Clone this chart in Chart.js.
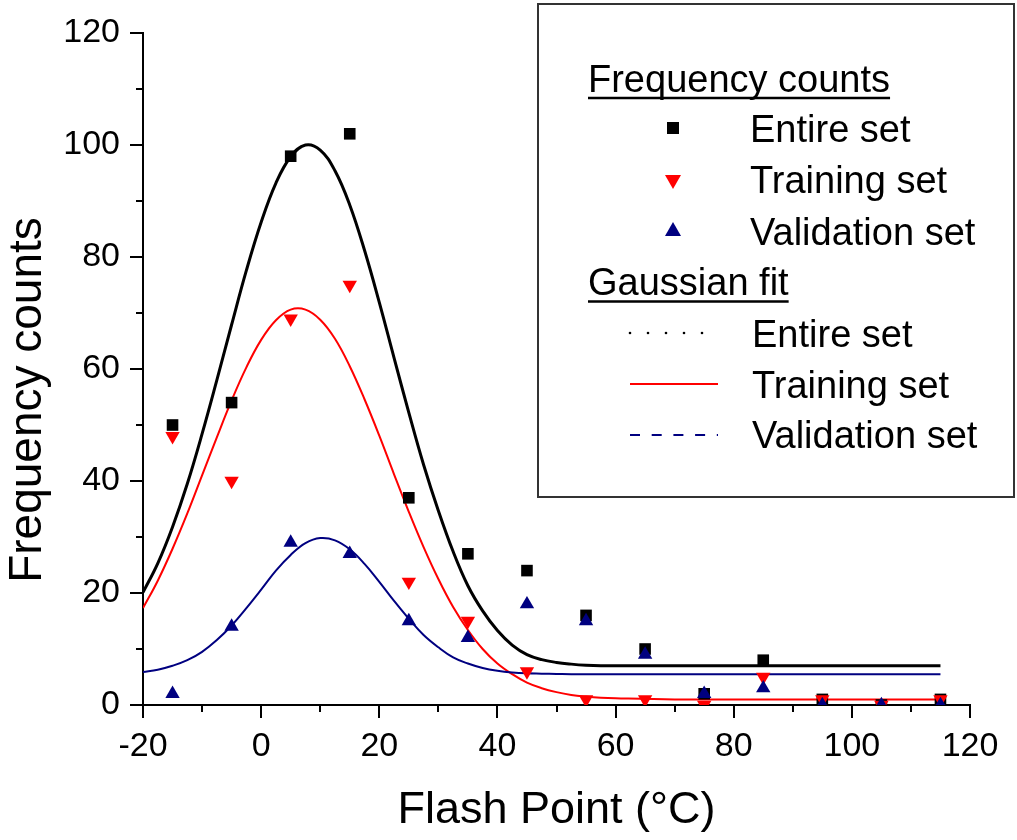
<!DOCTYPE html>
<html>
<head>
<meta charset="utf-8">
<script src="https://cdn.jsdelivr.net/npm/chart.js@4.4.1/dist/chart.umd.min.js"></script>
<style>
html,body{margin:0;padding:0;background:#ffffff;}
#wrap{width:1017px;height:840px;position:relative;}
</style>
</head>
<body>
<div id="wrap"><canvas id="c" width="1017" height="840"></canvas></div>
<script>
// ---- data ----
const binCenters = [-15, -5, 5, 15, 25, 35, 45, 55, 65, 75, 85, 95, 105, 115];
const entireCounts = [50, 54, 98, 102, 37, 27, 24, 16, 10, 2, 8, 1, 0, 1];
const trainingCounts = [48, 40, 69, 75, 22, 15, 6, 1, 1, 0, 5, 1, 0, 1];
const validationCounts = [2, 14, 29, 27, 15, 12, 18, 15, 9, 2, 3, 0, 0, 0];

// Gaussian fit curves
const fitX = [-20, -17.5, -15, -12.5, -10, -7.5, -5, -2.5, 0, 2.5, 5, 7.5, 10, 12.5, 15, 17.5, 20, 22.5, 25, 27.5, 30, 32.5, 35, 37.5, 40, 42.5, 45, 47.5, 50, 52.5, 55, 57.5, 60, 70, 80, 90, 100, 115];
const fitEntire = [20.1, 25.3, 31.8, 39.5, 48.4, 58.0, 67.9, 77.6, 86.2, 93.2, 97.9, 100.0, 99.1, 95.4, 89.3, 81.2, 71.9, 62.0, 52.2, 42.9, 34.7, 27.4, 21.3, 16.8, 13.3, 10.7, 9.0, 8.1, 7.6, 7.3, 7.1, 7.0, 7.0, 7.0, 7.0, 7.0, 7.0, 7.0];
const fitTraining = [17.3, 22.2, 27.9, 34.2, 41.0, 47.8, 54.4, 60.3, 65.2, 68.7, 70.6, 70.6, 68.8, 65.4, 60.5, 54.6, 48.1, 41.2, 34.5, 28.2, 22.5, 17.5, 13.4, 10.0, 7.4, 5.5, 4.0, 3.0, 2.3, 1.8, 1.5, 1.3, 1.2, 1.0, 1.0, 1.0, 1.0, 1.0];
const fitValidation = [5.9, 6.3, 7.0, 8.0, 9.5, 11.6, 14.2, 17.3, 20.6, 24.0, 26.8, 28.9, 29.8, 29.4, 27.8, 25.2, 22.0, 18.6, 15.4, 12.5, 10.3, 8.5, 7.4, 6.6, 6.1, 5.8, 5.65, 5.6, 5.55, 5.5, 5.5, 5.5, 5.5, 5.5, 5.5, 5.5, 5.5, 5.5];

const xTitle = 'Flash Point (°C)';
const yTitle = 'Frequency counts';
const legendHeadings = ['Frequency counts', 'Gaussian fit'];
const legendItems = ['Entire set', 'Training set', 'Validation set'];

const FONT = "'Liberation Sans', Arial, Helvetica, sans-serif";
const BLACK = '#000000', RED = '#ff0000', NAVY = '#000080';

const pts = (xs, ys) => xs.map((x, i) => ({x: x, y: ys[i]}));

// ---- plugins ----
const tickMarks = {
  id: 'tickMarks',
  afterDraw(chart) {
    const ctx = chart.ctx, a = chart.chartArea;
    ctx.save();
    ctx.strokeStyle = '#000';
    ctx.lineWidth = 2;
    const drawSet = (scale, horiz) => {
      const t = scale.ticks.map(k => k.value);
      const all = [];
      t.forEach((v, i) => { all.push([v, true]); if (i < t.length - 1) all.push([(v + t[i + 1]) / 2, false]); });
      all.forEach(([v, major]) => {
        const p = Math.round(scale.getPixelForValue(v));
        const len = major ? 13 : 7;
        ctx.beginPath();
        if (horiz) { ctx.moveTo(p, a.bottom); ctx.lineTo(p, a.bottom + len); }
        else { ctx.moveTo(a.left, p); ctx.lineTo(a.left - len, p); }
        ctx.stroke();
      });
    };
    drawSet(chart.scales.x, true);
    drawSet(chart.scales.y, false);
    ctx.restore();
  }
};

const yAxisTitle = {
  id: 'yAxisTitle',
  afterDraw(chart) {
    const ctx = chart.ctx;
    ctx.save();
    ctx.translate(28, 400);
    ctx.rotate(-Math.PI / 2);
    ctx.font = '46px ' + FONT;
    ctx.fillStyle = '#000';
    ctx.textAlign = 'center';
    ctx.textBaseline = 'middle';
    ctx.fillText(yTitle, 0, 0);
    ctx.restore();
  }
};

const customLegend = {
  id: 'customLegend',
  afterDraw(chart) {
    const ctx = chart.ctx;
    ctx.save();
    ctx.fillStyle = '#fff';
    ctx.fillRect(538, 4, 476, 493);
    ctx.strokeStyle = '#333';
    ctx.lineWidth = 2;
    ctx.strokeRect(538, 4, 476, 493);

    ctx.font = '38px ' + FONT;
    ctx.fillStyle = '#000';
    ctx.textAlign = 'left';
    ctx.textBaseline = 'alphabetic';

    const heading = (txt, y, uy) => {
      ctx.fillStyle = '#000';
      ctx.fillText(txt, 588, y);
      const w = ctx.measureText(txt).width;
      ctx.strokeStyle = '#000';
      ctx.lineWidth = 2.5;
      ctx.beginPath(); ctx.moveTo(588, uy); ctx.lineTo(588 + w, uy); ctx.stroke();
    };
    heading(legendHeadings[0], 92, 98);
    heading(legendHeadings[1], 295, 301.5);

    const sym = [142, 193, 245];
    const fit = [347, 398, 448];
    ctx.fillStyle = '#000';
    legendItems.forEach((t, i) => { ctx.fillText(t, 750, sym[i]); });
    legendItems.forEach((t, i) => { ctx.fillText(t, 752, fit[i]); });

    const cx = 673;
    ctx.fillStyle = BLACK;
    ctx.fillRect(cx - 6, 128 - 6, 12, 12);
    ctx.fillStyle = RED;
    ctx.beginPath(); ctx.moveTo(cx - 8, 175); ctx.lineTo(cx + 8, 175); ctx.lineTo(cx, 189); ctx.closePath(); ctx.fill();
    ctx.fillStyle = NAVY;
    ctx.beginPath(); ctx.moveTo(cx - 8, 236); ctx.lineTo(cx + 8, 236); ctx.lineTo(cx, 222); ctx.closePath(); ctx.fill();

    ctx.fillStyle = BLACK;
    for (let x = 630; x <= 703; x += 18) { ctx.beginPath(); ctx.arc(x, 333, 1.3, 0, Math.PI * 2); ctx.fill(); }
    ctx.strokeStyle = RED; ctx.lineWidth = 2;
    ctx.beginPath(); ctx.moveTo(630, 384); ctx.lineTo(718, 384); ctx.stroke();
    ctx.strokeStyle = NAVY; ctx.setLineDash([10, 11.7]);
    ctx.beginPath(); ctx.moveTo(630, 435); ctx.lineTo(718, 435); ctx.stroke();
    ctx.setLineDash([]);
    ctx.restore();
  }
};

const tickFont = {family: FONT, size: 34};

new Chart(document.getElementById('c'), {
  type: 'scatter',
  data: {
    datasets: [
      {label: 'Validation set', data: pts(binCenters, validationCounts), pointStyle: 'triangle', pointRadius: 8.3, pointHoverRadius: 8.3, pointBorderWidth: 0, backgroundColor: NAVY, borderColor: NAVY, order: 1},
      {label: 'Training set', data: pts(binCenters, trainingCounts), pointStyle: 'triangle', rotation: 180, pointRotation: 180, pointRadius: 8.3, pointHoverRadius: 8.3, pointBorderWidth: 0, backgroundColor: RED, borderColor: RED, order: 2},
      {label: 'Entire set', data: pts(binCenters, entireCounts), pointStyle: 'rect', pointRadius: 8.2, pointHoverRadius: 8.2, pointBorderWidth: 0, backgroundColor: BLACK, borderColor: BLACK, order: 3},
      {label: 'Gaussian fit: Validation set', data: pts(fitX, fitValidation), showLine: true, pointRadius: 0, borderColor: NAVY, borderWidth: 2, tension: 0.4, order: 4},
      {label: 'Gaussian fit: Training set', data: pts(fitX, fitTraining), showLine: true, pointRadius: 0, borderColor: RED, borderWidth: 2, tension: 0.4, order: 5},
      {label: 'Gaussian fit: Entire set', data: pts(fitX, fitEntire), showLine: true, pointRadius: 0, borderColor: BLACK, borderWidth: 3, tension: 0.4, order: 6}
    ]
  },
  options: {
    responsive: false,
    animation: false,
    devicePixelRatio: 1,
    layout: {padding: {top: 33, right: 47, bottom: 0, left: 0}},
    plugins: {legend: {display: false}, tooltip: {enabled: false}},
    scales: {
      x: {
        type: 'linear', min: -20, max: 120,
        ticks: {stepSize: 20, font: tickFont, color: '#000', padding: 0, maxRotation: 0},
        grid: {display: false, drawTicks: true, tickLength: 21},
        border: {display: true, color: '#000', width: 2},
        title: {display: true, text: xTitle, font: {family: FONT, size: 45}, color: '#000', padding: {top: 0, bottom: 2}},
        afterFit: s => { s.height = 135; }
      },
      y: {
        type: 'linear', min: 0, max: 120,
        ticks: {stepSize: 20, font: tickFont, color: '#000', padding: 0},
        grid: {display: false, drawTicks: true, tickLength: 23},
        border: {display: true, color: '#000', width: 2},
        afterFit: s => { s.width = 143; }
      }
    }
  },
  plugins: [tickMarks, yAxisTitle, customLegend]
});
</script>
</body>
</html>
